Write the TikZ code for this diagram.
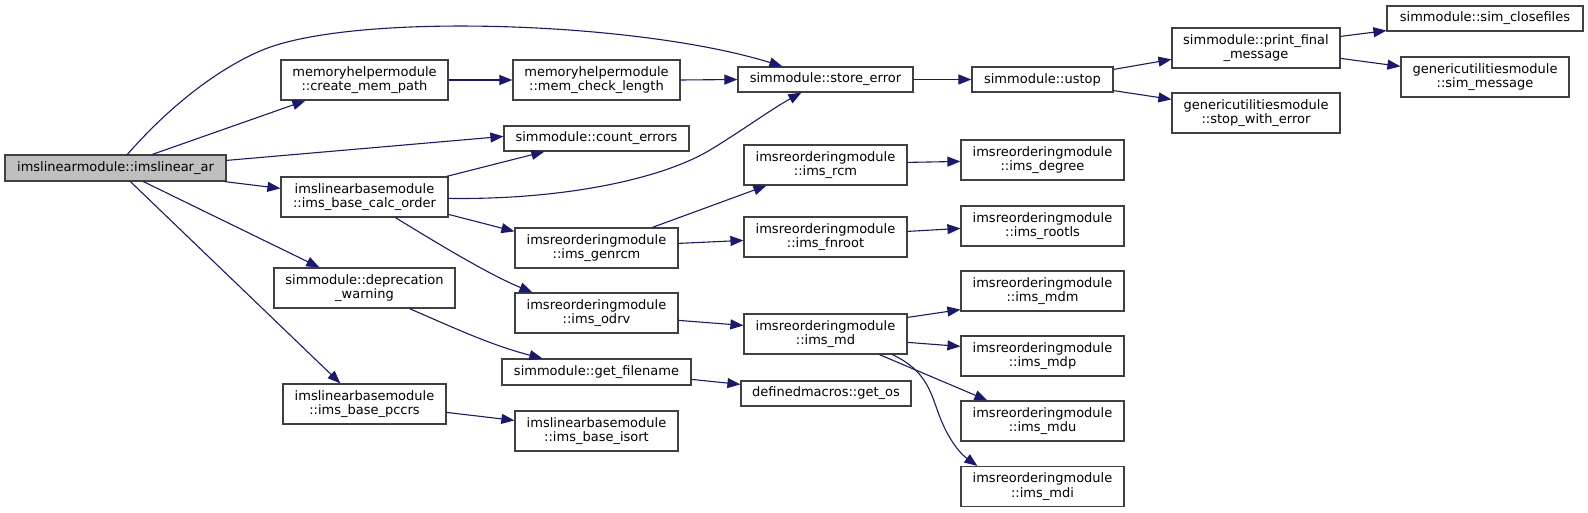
\documentclass[tikz,border=0pt]{standalone}
\usepackage{fontspec}
\setmainfont{DejaVu Sans}
\usetikzlibrary{arrows.meta,calc}
\definecolor{edgeblue}{HTML}{191970}
\definecolor{boxline}{HTML}{404040}
\definecolor{rootfill}{HTML}{BFBFBF}
\begin{document}
\begin{tikzpicture}[x=1pt,y=-1pt,
  box/.style={draw=boxline, line width=1.2pt, rectangle, inner sep=0pt, align=center,
    font=\fontsize{13pt}{14.3pt}\selectfont, fill=white},
  rootbox/.style={box, fill=rootfill},
  edge/.style={draw=edgeblue, line width=1.1pt, -{Triangle[length=13pt,width=10pt]}}]
\useasboundingbox[fill=white] (0,0) rectangle (1588,513);

% rank 0
\node[rootbox, minimum width=221pt, minimum height=26pt] (root) at (115.5,168) {imslinearmodule::imslinear\_ar};
% rank 1
\node[box, minimum width=167pt, minimum height=40pt] (cmp) at (364.5,80) {memoryhelpermodule\\::create\_mem\_path};
\node[box, minimum width=167pt, minimum height=40pt] (bco) at (364.5,197) {imslinearbasemodule\\::ims\_base\_calc\_order};
\node[box, minimum width=181pt, minimum height=40pt] (dep) at (364.5,288) {simmodule::deprecation\\\_warning};
\node[box, minimum width=163pt, minimum height=40pt] (pcc) at (364.5,404) {imslinearbasemodule\\::ims\_base\_pccrs};
% rank 2
\node[box, minimum width=167pt, minimum height=40pt] (mcl) at (596.5,80) {memoryhelpermodule\\::mem\_check\_length};
\node[box, minimum width=185pt, minimum height=25pt] (ce) at (596.5,138.5) {simmodule::count\_errors};
\node[box, minimum width=163pt, minimum height=40pt] (gen) at (596.5,248) {imsreorderingmodule\\::ims\_genrcm};
\node[box, minimum width=163pt, minimum height=40pt] (odrv) at (596.5,313) {imsreorderingmodule\\::ims\_odrv};
\node[box, minimum width=189pt, minimum height=26pt] (gfn) at (596.5,372) {simmodule::get\_filename};
\node[box, minimum width=163pt, minimum height=40pt] (iso) at (596.5,431) {imslinearbasemodule\\::ims\_base\_isort};
% rank 3
\node[box, minimum width=175pt, minimum height=25pt] (se) at (825.5,79.5) {simmodule::store\_error};
\node[box, minimum width=163pt, minimum height=40pt] (rcm) at (825.5,165) {imsreorderingmodule\\::ims\_rcm};
\node[box, minimum width=163pt, minimum height=40pt] (fnr) at (825.5,237) {imsreorderingmodule\\::ims\_fnroot};
\node[box, minimum width=163pt, minimum height=40pt] (md) at (825.5,334) {imsreorderingmodule\\::ims\_md};
\node[box, minimum width=170pt, minimum height=25pt] (gos) at (826,393.5) {definedmacros::get\_os};
% rank 4
\node[box, minimum width=141pt, minimum height=25pt] (ustop) at (1042.5,79.5) {simmodule::ustop};
\node[box, minimum width=163pt, minimum height=40pt] (deg) at (1042.5,160) {imsreorderingmodule\\::ims\_degree};
\node[box, minimum width=163pt, minimum height=40pt] (rls) at (1042.5,226) {imsreorderingmodule\\::ims\_rootls};
\node[box, minimum width=163pt, minimum height=40pt] (mdm) at (1042.5,291) {imsreorderingmodule\\::ims\_mdm};
\node[box, minimum width=163pt, minimum height=40pt] (mdp) at (1042.5,356) {imsreorderingmodule\\::ims\_mdp};
\node[box, minimum width=163pt, minimum height=40pt] (mdu) at (1042.5,421) {imsreorderingmodule\\::ims\_mdu};
\node[box, minimum width=163pt, minimum height=40pt] (mdi) at (1042.5,486.5) {imsreorderingmodule\\::ims\_mdi};
% rank 5
\node[box, minimum width=168pt, minimum height=40pt] (pfm) at (1256,48) {simmodule::print\_final\\\_message};
\node[box, minimum width=168pt, minimum height=40pt] (swe) at (1256,113) {genericutilitiesmodule\\::stop\_with\_error};
% rank 6
\node[box, minimum width=196pt, minimum height=25pt] (scf) at (1485,18.5) {simmodule::sim\_closefiles};
\node[box, minimum width=168pt, minimum height=40pt] (smsg) at (1485,77) {genericutilitiesmodule\\::sim\_message};

% edges
\draw[edge] ([xshift=123pt]root.north west) .. controls (175,100) and (225,65) .. (265,49)
   .. controls (360,12) and (640,22) .. ([xshift=45pt]se.north west);
\draw[edge] ([xshift=148pt]root.north west) -- ([xshift=25pt]cmp.south west);
\draw[edge] ([yshift=-6pt]root.north east) -- ([yshift=-11pt]ce.north west);
\draw[edge] ([xshift=-2pt]root.south east) -- ([yshift=-12pt]bco.north west);
\draw[edge] ([xshift=139pt]root.south west) -- ([xshift=46pt]dep.north west);
\draw[edge] ([xshift=126pt]root.south west) -- ([xshift=58pt]pcc.north west);

\draw[edge] (cmp.east) -- (mcl.west);
\draw[edge] (mcl.east) -- (se.west);
\draw[edge] ([xshift=-2pt]bco.north east) -- ([xshift=41pt]ce.south west);
\draw[edge] ([yshift=-22pt]bco.north east) .. controls (560,200) and (660,180) .. (710,150)
   .. controls (740,132) and (770,110) .. ([xshift=64pt]se.south west);
\draw[edge] ([yshift=-38pt]bco.north east) -- ([yshift=-4pt]gen.north west);
\draw[edge] ([xshift=115pt]bco.south west) .. controls (440,245) and (490,275) .. ([xshift=18pt]odrv.north west);

\draw[edge] ([xshift=138pt]gen.north west) -- ([xshift=23pt]rcm.south west);
\draw[edge] ([yshift=-16pt]gen.north east) -- ([yshift=-24pt]fnr.north west);
\draw[edge] ([yshift=-18pt]rcm.north east) -- ([yshift=-22pt]deg.north west);
\draw[edge] ([yshift=-15pt]fnr.north east) -- ([yshift=-23pt]rls.north west);

\draw[edge] (se.east) -- (ustop.west);
\draw[edge] ([yshift=-3pt]ustop.north east) -- ([yshift=-32pt]pfm.north west);
\draw[edge] ([yshift=2pt]ustop.south east) -- ([yshift=-7pt]swe.north west);
\draw[edge] ([yshift=-9pt]pfm.north east) -- ([yshift=1pt]scf.south west);
\draw[edge] ([yshift=-31pt]pfm.north east) -- ([yshift=-10pt]smsg.north west);

\draw[edge] ([xshift=136pt]dep.south west) .. controls (450,326) and (490,345) .. ([xshift=41pt]gfn.north west);
\draw[edge] ([yshift=-21pt]gfn.north east) -- ([yshift=-4pt]gos.north west);
\draw[edge] ([yshift=-29pt]pcc.north east) -- ([yshift=-10pt]iso.north west);
\draw[edge] ([yshift=-28pt]odrv.north east) -- ([yshift=-12pt]md.north west);

\draw[edge] ([yshift=-4pt]md.north east) -- ([yshift=2pt]mdm.south west);
\draw[edge] ([yshift=-29pt]md.north east) -- ([yshift=-11pt]mdp.north west);
\draw[edge] ([xshift=136pt]md.south west) -- ([xshift=27pt]mdu.north west);
\draw[edge] ([xshift=149pt]md.south west) .. controls (925,370) and (930,390) .. (938,412)
   .. controls (946,435) and (958,452) .. ([xshift=17pt]mdi.north west);
\end{tikzpicture}
\end{document}
